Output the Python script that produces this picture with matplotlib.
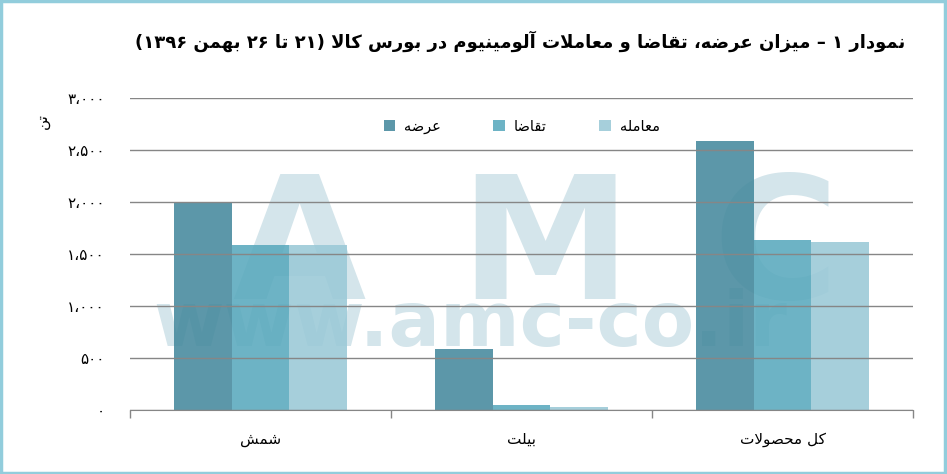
import re
import matplotlib
matplotlib.use('Agg')
import matplotlib.pyplot as plt
import numpy as np
from matplotlib.patches import Rectangle, Patch

# data (tonnes)
categories = ['شمش', 'بیلت', 'کل محصولات']
series_names = ['عرضه', 'تقاضا', 'معامله']
supply = [2000, 590, 2590]
demand = [1590, 50, 1640]
trade = [1590, 30, 1620]
yticks = [0, 500, 1000, 1500, 2000, 2500, 3000]
title = 'نمودار ۱ – میزان عرضه، تقاضا و معاملات آلومینیوم در بورس کالا (۲۱ تا ۲۶ بهمن ۱۳۹۶)'
ylabel = 'تن'

colors = ['#45899d', '#59a9bd', '#9ac9d7']
grid_color = '#868686'
mark_color = '#d4e5eb'

# --- tiny Persian shaper + bidi reorder (no arabic_reshaper available) ---
# (isolated, final, initial, medial); right-joining letters have no initial/medial
FORMS = {
    'ا': ('\uFE8D', '\uFE8E', None, None),
    'آ': ('\uFE81', '\uFE82', None, None),
    'د': ('\uFEA9', '\uFEAA', None, None),
    'ر': ('\uFEAD', '\uFEAE', None, None),
    'ز': ('\uFEAF', '\uFEB0', None, None),
    'و': ('\uFEED', '\uFEEE', None, None),
    'ب': ('\uFE8F', '\uFE90', '\uFE91', '\uFE92'),
    'ت': ('\uFE95', '\uFE96', '\uFE97', '\uFE98'),
    'ح': ('\uFEA1', '\uFEA2', '\uFEA3', '\uFEA4'),
    'س': ('\uFEB1', '\uFEB2', '\uFEB3', '\uFEB4'),
    'ش': ('\uFEB5', '\uFEB6', '\uFEB7', '\uFEB8'),
    'ص': ('\uFEB9', '\uFEBA', '\uFEBB', '\uFEBC'),
    'ض': ('\uFEBD', '\uFEBE', '\uFEBF', '\uFEC0'),
    'ع': ('\uFEC9', '\uFECA', '\uFECB', '\uFECC'),
    'ق': ('\uFED5', '\uFED6', '\uFED7', '\uFED8'),
    'ک': ('\uFB8E', '\uFB8F', '\uFB90', '\uFB91'),
    'ل': ('\uFEDD', '\uFEDE', '\uFEDF', '\uFEE0'),
    'م': ('\uFEE1', '\uFEE2', '\uFEE3', '\uFEE4'),
    'ن': ('\uFEE5', '\uFEE6', '\uFEE7', '\uFEE8'),
    'ه': ('\uFEE9', '\uFEEA', '\uFEEB', '\uFEEC'),
    'ی': ('\uFBFC', '\uFBFD', '\uFBFE', '\uFBFF'),
}
LAM_ALEF = {'ا': ('\uFEFB', '\uFEFC'), 'آ': ('\uFEF5', '\uFEF6')}
MIRROR = {'(': ')', ')': '('}


def dual(c):
    return c in FORMS and FORMS[c][2] is not None


def shape(text):
    out = []
    i = 0
    n = len(text)
    while i < n:
        c = text[i]
        if c not in FORMS:
            out.append(c)
            i += 1
            continue
        prev = text[i - 1] if i > 0 else ''
        nxt = text[i + 1] if i + 1 < n else ''
        link_prev = dual(prev)
        if c == 'ل' and nxt in LAM_ALEF:
            out.append(LAM_ALEF[nxt][1 if link_prev else 0])
            i += 2
            continue
        link_next = dual(c) and nxt in FORMS
        iso, fin, ini, med = FORMS[c]
        if link_prev and link_next:
            out.append(med)
        elif link_prev:
            out.append(fin)
        elif link_next:
            out.append(ini)
        else:
            out.append(iso)
        i += 1
    return ''.join(out)


def fa(text):
    s = shape(text)
    tokens = re.findall(r'[0-9\u06F0-\u06F9]+(?:\u060C[0-9\u06F0-\u06F9]+)*|.', s)
    return ''.join(MIRROR.get(t, t) for t in reversed(tokens))


def fa_num(v):
    s = f'{v:,}'.replace(',', '\u060C')
    return s.translate(str.maketrans('0123456789', '۰۱۲۳۴۵۶۷۸۹'))


plt.rcParams['font.family'] = ['DejaVu Sans']

fig = plt.figure(figsize=(9.47, 4.74), dpi=100)
ax = fig.add_axes([0.1373, 0.135, 0.8268, 0.658])

# faint watermark behind the bars
for letter, xpos in zip('AMC', [0.215, 0.53, 0.825]):
    ax.text(xpos, 0.355, letter, transform=ax.transAxes, fontsize=124,
            fontweight='bold', color=mark_color, ha='center', va='baseline', zorder=0)
ax.text(0.435, 0.205, 'www.amc-co.ir', transform=ax.transAxes, fontsize=55,
        fontweight='bold', color=mark_color, ha='center', va='baseline', zorder=0)

x = np.arange(len(categories))
w = 0.222
for k, vals in enumerate([supply, demand, trade]):
    ax.bar(x + (k - 1) * w, vals, width=w, color=colors[k], alpha=0.88,
           zorder=2, linewidth=0)

ax.set_xlim(-0.5, 2.5)
ax.set_ylim(0, 3000)
ax.set_yticks(yticks)
ax.set_yticklabels([fa_num(v) for v in yticks], fontsize=11)
ax.set_xticks(x)
ax.set_xticklabels([fa(c) for c in categories], fontsize=11)
ax.set_xticks([-0.5, 0.5, 1.5, 2.5], minor=True)
ax.tick_params(axis='x', which='major', length=0, pad=16)
ax.tick_params(axis='x', which='minor', length=6, color=grid_color, width=1)
ax.tick_params(axis='y', length=0, pad=18)

ax.yaxis.grid(True, color=grid_color, linewidth=1, zorder=1)
ax.set_axisbelow(False)
for sp in ['top', 'right', 'left']:
    ax.spines[sp].set_visible(False)
ax.spines['bottom'].set_color(grid_color)
ax.spines['bottom'].set_zorder(3)

handles = [Patch(facecolor=c, alpha=0.88) for c in colors]
ax.legend(handles, [fa(s) for s in series_names], ncol=3, loc='center',
          bbox_to_anchor=(0.5, 0.91), frameon=False, fontsize=10.5,
          handlelength=0.8, handleheight=0.8, columnspacing=3.6, handletextpad=0.6)

fig.text(0.045, 0.745, fa(ylabel), rotation=90, fontsize=11, ha='center', va='center')
fig.text(0.549, 0.912, fa(title), fontsize=13, fontweight='bold', ha='center', va='center')

fig.patches.append(Rectangle((0.001, 0.002), 0.997, 0.995, transform=fig.transFigure,
                             fill=False, edgecolor='#92cddc', linewidth=2.5))

fig.savefig('out.png', dpi=100)
